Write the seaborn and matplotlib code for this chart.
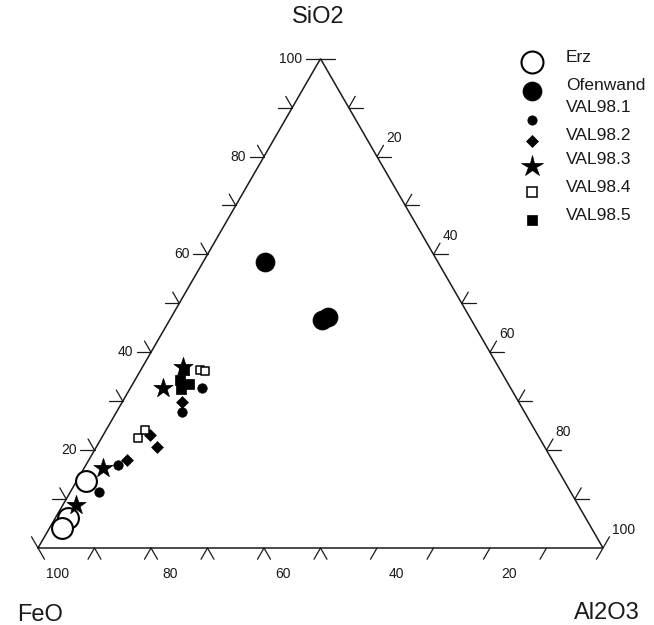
import numpy as np
import pandas as pd
import matplotlib
matplotlib.use("Agg")
import matplotlib.pyplot as plt
import seaborn as sns

sns.set_theme(style="white")
plt.rcParams["font.family"] = ["Liberation Sans", "DejaVu Sans"]

# ---- data (FeO, Al2O3, SiO2 in %) ----
erz_feo = [84.7, 91.6, 93.7]
erz_al2o3 = [1.7, 2.3, 2.2]
erz_sio2 = [13.7, 6.1, 4.1]

ofen_feo = [30.6, 26.5, 25.0]
ofen_al2o3 = [11.0, 27.0, 27.7]
ofen_sio2 = [58.4, 46.5, 47.3]

v1_feo = [83.5, 77.4, 54.7, 60.6]
v1_al2o3 = [5.1, 5.7, 12.7, 11.6]
v1_sio2 = [11.4, 16.9, 32.6, 27.8]

v2_feo = [75.3, 68.6, 68.6, 59.6]
v2_al2o3 = [6.8, 8.3, 10.8, 10.6]
v2_sio2 = [17.9, 23.1, 20.6, 29.8]

v3_feo = [88.9, 80.3, 61.6, 55.9]
v3_al2o3 = [2.3, 3.3, 5.8, 7.2]
v3_sio2 = [8.8, 16.4, 32.6, 36.9]

v4_feo = [71.1, 69.0, 53.2, 52.4]
v4_al2o3 = [6.5, 6.9, 10.5, 11.5]
v4_sio2 = [22.4, 24.1, 36.3, 36.1]

v5_feo = [56.0, 57.7, 56.5, 58.5]
v5_al2o3 = [7.7, 8.0, 10.0, 9.1]
v5_sio2 = [36.3, 34.3, 33.5, 32.4]

series_names = ["Erz", "Ofenwand", "VAL98.1", "VAL98.2", "VAL98.3", "VAL98.4", "VAL98.5"]
series_data = [
    (erz_feo, erz_al2o3, erz_sio2),
    (ofen_feo, ofen_al2o3, ofen_sio2),
    (v1_feo, v1_al2o3, v1_sio2),
    (v2_feo, v2_al2o3, v2_sio2),
    (v3_feo, v3_al2o3, v3_sio2),
    (v4_feo, v4_al2o3, v4_sio2),
    (v5_feo, v5_al2o3, v5_sio2),
]

axis_ticks = [10, 20, 30, 40, 50, 60, 70, 80, 90, 100]
label_ticks = [20, 40, 60, 80, 100]
corner_names = ["SiO2", "FeO", "Al2O3"]

# ---- styles ----
H = np.sqrt(3) / 2
styles = {
    # marker, plot size(pt), legend size(pt), face, edge lw
    "Erz": ("o", 15, 15.8, "white", 1.5),
    "Ofenwand": ("o", 13.7, 13.7, "black", 0.5),
    "VAL98.1": ("o", 6.8, 6.7, "black", 0.5),
    "VAL98.2": ("D", 6.0, 6.1, "black", 0.5),
    "VAL98.3": ("*", 14.5, 16.0, "black", 0.5),
    "VAL98.4": ("s", 6.3, 6.5, "white", 1.1),
    "VAL98.5": ("s", 6.8, 7.2, "black", 0.5),
}

rows = []
for name, (f, a, s) in zip(series_names, series_data):
    for fi, ai, si in zip(f, a, s):
        tot = fi + ai + si
        A, S = 100 * ai / tot, 100 * si / tot
        rows.append({"group": name, "x": A + S / 2, "y": S * H})
df = pd.DataFrame(rows)

W, Hpx = 654, 625
fig = plt.figure(figsize=(W / 100, Hpx / 100), dpi=100)
ax = fig.add_axes([0, 0, 1, 1])
scale = 5.65  # px per unit
ax.set_xlim(-38 / scale, (W - 38) / scale)
ax.set_ylim(-(Hpx - 548) / scale, 548 / scale)
ax.set_aspect("equal")
ax.axis("off")

lc = "#1a1a1a"
# triangle
tri_x = [0, 100, 50, 0]
tri_y = [0, 0, 100 * H, 0]
ax.plot(tri_x, tri_y, color=lc, lw=1.1, solid_joinstyle="miter")

tl = 2.5
dl = 2.3
def seg(p, d, L):
    ax.plot([p[0], p[0] + d[0] * L], [p[1], p[1] + d[1] * L], color=lc, lw=0.9)

# left edge (SiO2)
for v in [0] + axis_ticks:
    p = (v / 2, v * H)
    if v >= 10:
        seg(p, (-1, 0), tl)
    if v <= 90:
        seg(p, (-0.5, H), dl)
# bottom edge (FeO)
for f in [0] + axis_ticks:
    p = (100 - f, 0)
    if f <= 90:
        seg(p, (-0.5, -H), dl)
    if f >= 50:
        seg(p, (0.5, -H), dl)
# right edge (Al2O3)
for a in [0] + axis_ticks:
    p = (a + (100 - a) / 2, (100 - a) * H)
    if a <= 90:
        seg(p, (1, 0), tl)
    if a >= 10:
        seg(p, (0.5, H), dl)

tick_fs = 10
for v in label_ticks:
    ax.text(v / 2 - 3.2, v * H, str(v), ha="right", va="center", fontsize=tick_fs, color=lc)
for f in label_ticks:
    ax.text(100 - f + 3.4, -4.6, str(f), ha="center", va="center", fontsize=tick_fs, color=lc)
for a in label_ticks:
    px = a + (100 - a) / 2 + dl * 0.5 + 0.5
    py = (100 - a) * H + dl * H + 0.5
    ax.text(px, py, str(a), ha="left", va="baseline", fontsize=tick_fs, color=lc)

# corner labels
title_fs = 17
ax.text(49.6, 94.0, corner_names[0], ha="center", va="center", fontsize=title_fs, color=lc)
ax.text(0.4, -11.9, corner_names[1], ha="center", va="center", fontsize=title_fs, color=lc)
ax.text(100.6, -11.5, corner_names[2], ha="center", va="center", fontsize=title_fs, color=lc)

# data points
for name in series_names:
    m, ms, lms, fc, lw = styles[name]
    sub = df[df.group == name]
    sns.scatterplot(data=sub, x="x", y="y", marker=m, s=ms ** 2, color=fc,
                    edgecolor="black", linewidth=lw, ax=ax, legend=False, zorder=3)

# legend (manual)
marker_y = [62, 91, 120, 141, 166, 192, 220]
text_y = [58, 85, 108, 136, 160, 188, 215]
for name, my, ty in zip(series_names, marker_y, text_y):
    m, ms, lms, fc, lw = styles[name]
    fig.lines.append(plt.Line2D([532 / W], [1 - my / Hpx], transform=fig.transFigure,
                                marker=m, markersize=lms, markerfacecolor=fc,
                                markeredgecolor="black", markeredgewidth=lw, linestyle="none"))
    fig.text(566 / W, 1 - ty / Hpx, name, ha="left", va="center", fontsize=12.5, color=lc)

fig.savefig("out.png", dpi=100, facecolor="white")
